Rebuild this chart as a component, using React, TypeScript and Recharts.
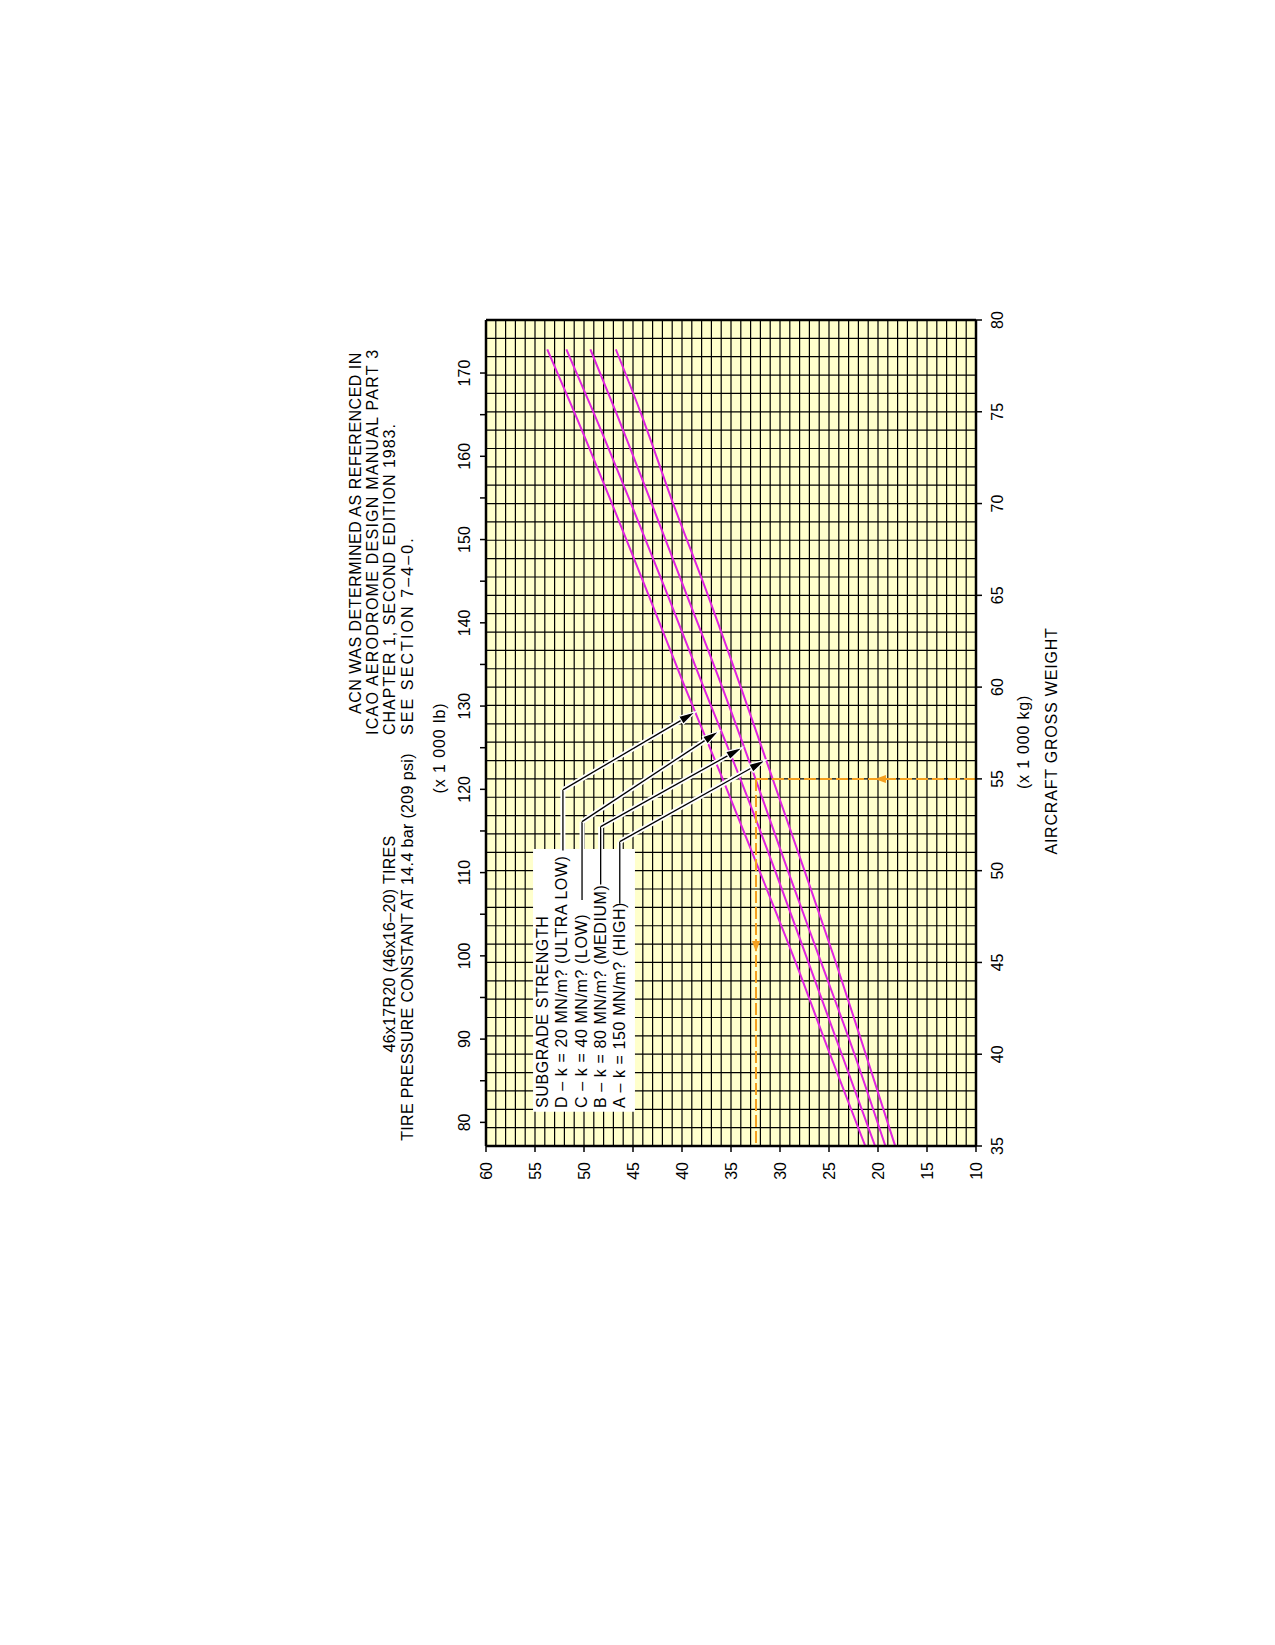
import React from 'react';
import {
  ComposedChart,
  Line,
  XAxis,
  YAxis,
  CartesianGrid,
  ReferenceLine,
  ReferenceArea,
  ReferenceDot,
} from 'recharts';

// aircraft gross weight (x 1 000 kg) and ACN read for each subgrade
const weights = [35, 40, 45, 50, 55, 60, 65, 70, 75, 78.4];
const acnD = [21.3, 24.9, 28.4, 32.1, 35.85, 39.7, 43.4, 47.15, 51.0, 53.75];
const acnC = [20.3, 23.7, 27.1, 30.5, 34.05, 37.8, 41.45, 45.2, 49.05, 51.8];
const acnB = [19.25, 22.4, 25.8, 29.2, 32.5, 35.9, 39.5, 43.1, 46.75, 49.35];
const acnA = [18.25, 21.25, 24.3, 27.5, 30.75, 34.0, 37.35, 40.9, 44.25, 46.75];

const kgTicks = [35, 40, 45, 50, 55, 60, 65, 70, 75, 80];
const lbTicks = [80, 85, 90, 95, 100, 105, 110, 115, 120, 125, 130, 135, 140, 145, 150, 155, 160, 165, 170];
const acnTicks = [10, 15, 20, 25, 30, 35, 40, 45, 50, 55, 60];

// example reading: 55 000 kg on curve B
const exampleWeight = 55;
const exampleAcn = 32.45;

// leader lines from the legend to the curves: [weight, acn]
const leaderD = [[51.1, 52.15], [54.4, 52.15], [58.66, 38.6]];
const leaderC = [[48.4, 50.2], [52.67, 50.2], [57.61, 36.2]];
const leaderB = [[49.25, 48.3], [52.4, 48.3], [56.72, 33.8]];
const leaderA = [[48.2, 46.35], [51.58, 46.35], [56.03, 31.45]];

const LB_PER_KG = 2.20462;
const FONT = '"Liberation Sans", Arial, Helvetica, sans-serif';
const MAGENTA = '#e024e0';
const ORANGE = '#f5a01e';

const rows = weights.map((w, i) => ({
  w,
  lb: w * LB_PER_KG,
  D: acnD[i],
  C: acnC[i],
  B: acnB[i],
  A: acnA[i],
}));
const kgGrid = Array.from({ length: 46 }, (_, i) => 35 + i);
const acnGrid = Array.from({ length: 51 }, (_, i) => 10 + i);

const haloLine = (arrow: boolean) => (p: any) => {
  const { x1, y1, x2, y2 } = p;
  let head = null;
  let ex = x2;
  let ey = y2;
  if (arrow) {
    const a = Math.atan2(y2 - y1, x2 - x1);
    const len = 17;
    const half = 4.5;
    const bx = x2 - len * Math.cos(a);
    const by = y2 - len * Math.sin(a);
    const nx = -Math.sin(a) * half;
    const ny = Math.cos(a) * half;
    ex = bx;
    ey = by;
    head = (
      <polygon
        points={`${x2},${y2} ${bx + nx},${by + ny} ${bx - nx},${by - ny}`}
        fill="#000"
        stroke="#fff"
        strokeWidth={1.2}
      />
    );
  }
  return (
    <g>
      <line x1={x1} y1={y1} x2={ex} y2={ey} stroke="#fff" strokeWidth={5} />
      <line x1={x1} y1={y1} x2={ex} y2={ey} stroke="#000" strokeWidth={1.3} />
      {head}
    </g>
  );
};

const orangeHead = (dir: 'up' | 'left') => (p: any) => {
  const { cx, cy } = p;
  const pts =
    dir === 'up'
      ? `${cx},${cy - 7} ${cx - 4},${cy + 4} ${cx + 4},${cy + 4}`
      : `${cx - 7},${cy} ${cx + 4},${cy - 4} ${cx + 4},${cy + 4}`;
  return <polygon points={pts} fill={ORANGE} />;
};

const Txt = ({ u, v, center, ls = 0.8, children }: any) => (
  <div
    style={{
      position: 'absolute',
      left: u,
      top: v - 8,
      fontSize: 16,
      lineHeight: '16px',
      letterSpacing: ls,
      whiteSpace: 'pre',
      color: '#000',
      transform: center ? 'translateX(-50%)' : undefined,
    }}
  >
    {children}
  </div>
);

function leader(pts: number[][], key: string) {
  return [
    <ReferenceLine
      key={key + '1'}
      xAxisId="kg"
      yAxisId="acn"
      segment={[{ x: pts[0][0], y: pts[0][1] }, { x: pts[1][0], y: pts[1][1] }]}
      shape={haloLine(false)}
      ifOverflow="visible"
    />,
    <ReferenceLine
      key={key + '2'}
      xAxisId="kg"
      yAxisId="acn"
      segment={[{ x: pts[1][0], y: pts[1][1] }, { x: pts[2][0], y: pts[2][1] }]}
      shape={haloLine(true)}
      ifOverflow="visible"
    />,
  ];
}

export default function App() {
  const tickStyle = { fontSize: 16, fill: '#000', fontFamily: FONT };
  const axisStyle = { stroke: '#000', strokeWidth: 2.5 };
  const tickLineStyle = { stroke: '#000', strokeWidth: 1.5 };

  return (
    <div
      style={{
        position: 'absolute',
        left: 0,
        top: 0,
        width: 1275,
        height: 1645,
        overflow: 'hidden',
        background: '#fff',
        fontFamily: FONT,
      }}
    >
      <div
        style={{
          position: 'absolute',
          left: 0,
          top: 1645,
          width: 1645,
          height: 1275,
          transform: 'rotate(-90deg)',
          transformOrigin: '0 0',
        }}
      >
        <ComposedChart
          width={1645}
          height={1275}
          data={rows}
          margin={{ top: 446, right: 310, bottom: 259, left: 439 }}
        >
          <CartesianGrid
            xAxisId="kg"
            yAxisId="acn"
            verticalValues={kgGrid}
            horizontalValues={acnGrid}
            stroke="#000"
            strokeWidth={1.2}
            fill="#ffffcc"
            fillOpacity={1}
          />
          <XAxis
            xAxisId="kg"
            dataKey="w"
            type="number"
            orientation="bottom"
            domain={[35, 80]}
            allowDataOverflow
            ticks={kgTicks}
            interval={0}
            height={40}
            tickSize={6}
            tickMargin={10}
            tick={tickStyle}
            axisLine={axisStyle}
            tickLine={tickLineStyle}
          />
          <XAxis
            xAxisId="lb"
            dataKey="lb"
            type="number"
            orientation="top"
            domain={[35 * LB_PER_KG, 80 * LB_PER_KG]}
            allowDataOverflow
            ticks={lbTicks}
            interval={0}
            height={40}
            tickSize={6}
            tickMargin={10}
            tick={tickStyle}
            tickFormatter={(v: number) => (v % 10 === 0 ? String(v) : '')}
            axisLine={axisStyle}
            tickLine={tickLineStyle}
          />
          <YAxis
            yAxisId="acn"
            type="number"
            domain={[10, 60]}
            allowDataOverflow
            ticks={acnTicks}
            interval={0}
            width={60}
            tickSize={6}
            tickMargin={10}
            tick={tickStyle}
            axisLine={axisStyle}
            tickLine={tickLineStyle}
          />
          <YAxis
            yAxisId="r"
            orientation="right"
            type="number"
            domain={[10, 60]}
            allowDataOverflow
            width={10}
            tick={false}
            tickLine={false}
            axisLine={axisStyle}
          />

          <ReferenceArea
            xAxisId="kg"
            yAxisId="acn"
            x1={36.86}
            x2={51.18}
            y1={44.8}
            y2={55.2}
            fill="#fff"
            fillOpacity={1}
            stroke="none"
            ifOverflow="visible"
          />

          {/* carries the lb scale only, draws nothing */}
          <Line xAxisId="lb" yAxisId="acn" dataKey="D" stroke="none" dot={false} activeDot={false} isAnimationActive={false} />

          <Line xAxisId="kg" yAxisId="acn" type="monotone" dataKey="D" stroke={MAGENTA} strokeWidth={2} dot={false} isAnimationActive={false} />
          <Line xAxisId="kg" yAxisId="acn" type="monotone" dataKey="C" stroke={MAGENTA} strokeWidth={2} dot={false} isAnimationActive={false} />
          <Line xAxisId="kg" yAxisId="acn" type="monotone" dataKey="B" stroke={MAGENTA} strokeWidth={2} dot={false} isAnimationActive={false} />
          <Line xAxisId="kg" yAxisId="acn" type="monotone" dataKey="A" stroke={MAGENTA} strokeWidth={2} dot={false} isAnimationActive={false} />

          <ReferenceLine
            xAxisId="kg"
            yAxisId="acn"
            segment={[{ x: exampleWeight, y: 10 }, { x: exampleWeight, y: exampleAcn }]}
            stroke={ORANGE}
            strokeWidth={2}
            strokeDasharray="12 4"
          />
          <ReferenceLine
            xAxisId="kg"
            yAxisId="acn"
            segment={[{ x: exampleWeight, y: exampleAcn }, { x: 35, y: exampleAcn }]}
            stroke={ORANGE}
            strokeWidth={2}
            strokeDasharray="12 4"
          />
          <ReferenceDot xAxisId="kg" yAxisId="acn" x={exampleWeight} y={19.6} r={4} shape={orangeHead('up')} />
          <ReferenceDot xAxisId="kg" yAxisId="acn" x={45.95} y={exampleAcn} r={4} shape={orangeHead('left')} />

          {leader(leaderD, 'd')}
          {leader(leaderC, 'c')}
          {leader(leaderB, 'b')}
          {leader(leaderA, 'a')}
        </ComposedChart>

        <Txt u={931} v={356} ls={0.5}>ACN WAS DETERMINED AS REFERENCED IN</Txt>
        <Txt u={910} v={373} ls={1.25}>ICAO AERODROME DESIGN MANUAL PART 3</Txt>
        <Txt u={910} v={390} ls={1.0}>CHAPTER 1, SECOND EDITION 1983.</Txt>
        <Txt u={910} v={408} ls={2.1}>SEE SECTION 7–4–0.</Txt>

        <Txt u={701} v={390} center ls={0.3}>46x17R20 (46x16–20) TIRES</Txt>
        <Txt u={698} v={408} center ls={0.35}>TIRE PRESSURE CONSTANT AT 14.4 bar (209 psi)</Txt>

        <Txt u={897} v={440} center ls={0.9}>(x 1 000 lb)</Txt>
        <Txt u={903} v={1024} center ls={0.8}>(x 1 000 kg)</Txt>
        <Txt u={904} v={1052} center ls={0.8}>AIRCRAFT GROSS WEIGHT</Txt>

        <Txt u={537} v={543} ls={0.6}>SUBGRADE STRENGTH</Txt>
        <Txt u={537} v={562} ls={0.6}>D – k = 20 MN/m? (ULTRA LOW)</Txt>
        <Txt u={537} v={582} ls={0.6}>C – k = 40 MN/m? (LOW)</Txt>
        <Txt u={537} v={601} ls={0.6}>B – k = 80 MN/m? (MEDIUM)</Txt>
        <Txt u={537} v={620} ls={0.6}>A – k = 150 MN/m? (HIGH)</Txt>
      </div>
    </div>
  );
}
